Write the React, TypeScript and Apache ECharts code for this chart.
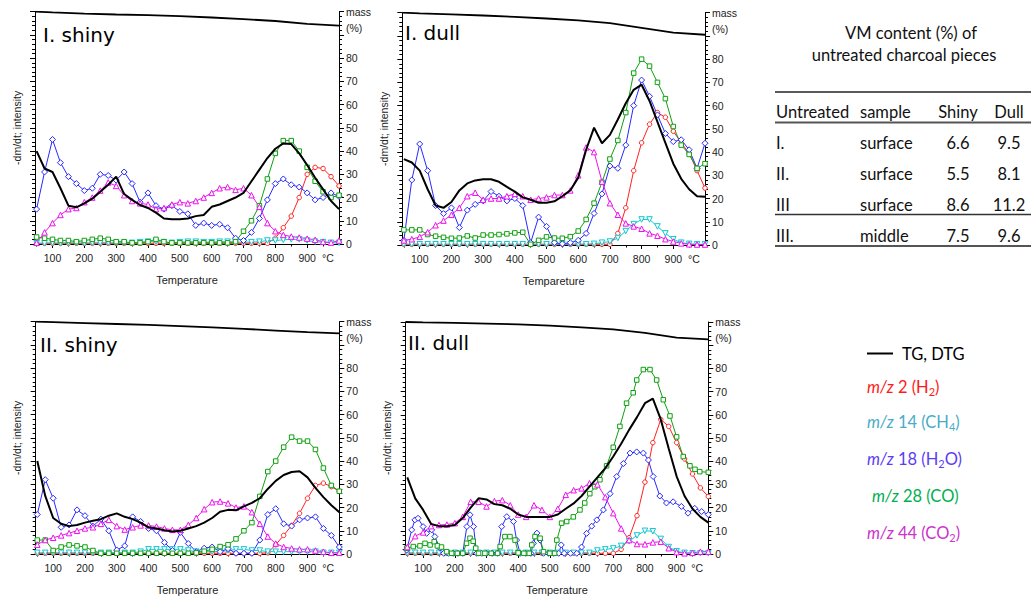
import React, { useEffect, useRef } from "react";
import * as echarts from "echarts";

// ---------- shared axes data ----------
const temps = [50, 75, 100, 125, 150, 175, 200, 225, 250, 275, 300, 325, 350, 375, 400, 425, 450, 475, 500, 525, 550, 575, 600, 625, 650, 675, 700, 725, 750, 775, 800, 825, 850, 875, 900, 925, 950, 975, 1000];
const tgTemps = [45, 100, 200, 300, 400, 500, 600, 700, 800, 900, 1000];
const xTickLabels = [100, 200, 300, 400, 500, 600, 700, 800, 900];
const xMinorTicks = [50, 150, 250, 350, 450, 550, 650, 750, 850, 950];
const unitLabelPos = 965;
const yTickLabels = [0, 10, 20, 30, 40, 50, 60, 70, 80];
const massLabelPos = [93, 100];

const panelTitles = ["I. shiny", "I. dull", "II. shiny", "II. dull"];
const xAxisNames = ["Temperature", "Tempareture", "Temperature", "Temperature"];
const yAxisName = "-dm/dt; intensity";

// ---------- I. shiny ----------
const tg1 = [100, 99.7, 99.2, 98.8, 98.5, 98.1, 97.5, 96.8, 96, 94.8, 94];
const dtg1 = [40, 32.5, 31, 24, 16.5, 15.8, 17.5, 19.5, 22.5, 25.5, 29, 21.5, 19, 16.8, 15.5, 13.5, 11, 10.7, 10.7, 11, 12, 12.5, 16, 17, 18.5, 20, 22, 27, 32, 37, 41, 43.3, 43, 39, 34, 28.5, 23.5, 18.5, 15];
const h2_1 = [0.3, 0.3, 0.3, 0.3, 0.3, 0.3, 0.3, 0.3, 0.3, 0.3, 0.3, 0.3, 0.3, 0.3, 0.3, 0.3, 0.3, 0.3, 0.3, 0.3, 0.3, 0.3, 0.3, 0.3, 0.3, 0.3, 0.3, 0.3, 0.3, 0.3, 2.5, 7, 12, 20, 30, 33, 32.5, 29, 25];
const ch4_1 = [0.3, 0.3, 0.5, 0.3, 0.5, 0.5, 0.3, 0.5, 0.5, 0.5, 0.5, 0.5, 0.5, 0.8, 1, 1, 0.8, 0.5, 0.8, 1, 1, 0.8, 0.8, 1, 1, 0.8, 0.8, 0.8, 1, 1.5, 1.5, 1.8, 2, 2, 1.5, 1, 0.8, 0.5, 0.5];
const h2o_1 = [15, 31, 45, 35, 29, 26, 23, 24, 30, 29.5, 27.5, 31, 26, 18, 22, 16.5, 15, 16.5, 14, 13, 8, 9, 8, 8.5, 7, 2.5, 1.5, 5, 11, 19, 26, 28, 25.5, 24.5, 22, 19, 20, 22, 20.5];
const co_1 = [3, 2.5, 2, 1.5, 1.5, 1, 1.5, 2, 2.5, 2, 1, 1, 0.5, 0.5, 1, 2, 1, 0.5, 0.5, 0.5, 0.5, 0.5, 0.5, 0.5, 0.5, 1, 5.5, 10, 16.5, 28, 39, 44.5, 44.5, 40, 33, 27, 22.5, 20, 21];
const co2_1 = [0.5, 5, 9, 12.5, 15, 15.5, 18, 20, 23, 26.5, 25, 21, 18.5, 17.5, 17, 15, 15.5, 17, 18, 17.5, 18.5, 20, 22, 24, 24.5, 23.3, 24, 21, 16, 9, 5.5, 3.9, 3.2, 2.8, 2.3, 1.8, 1, 0.6, 1.5];

// ---------- I. dull ----------
const tg2 = [100, 99.7, 99.3, 98.8, 98.2, 97.5, 96.7, 95.5, 93.5, 91.4, 90.5];
const dtg2 = [37, 35.5, 32, 24, 17, 16, 18.5, 23.5, 26.5, 27.8, 28.3, 28.3, 27.2, 25, 23, 20.5, 19.5, 18.2, 18.2, 18.8, 21, 23.5, 29, 41, 50.5, 43.8, 47.4, 54, 61, 66.8, 69, 62, 53, 44, 35, 28.5, 24, 21, 20.8];
const h2_2 = [0.3, 0.3, 0.3, 0.3, 0.3, 0.3, 0.3, 0.3, 0.3, 0.3, 0.3, 0.3, 0.3, 0.3, 0.3, 0.3, 0.3, 0.3, 0.3, 0.3, 0.3, 0.3, 0.3, 0.3, 0.3, 0.3, 0.3, 5, 16, 32, 44, 52, 57, 55, 49, 44, 39.5, 32, 24.5];
const ch4_2 = [0.3, 0.3, 0.3, 0.3, 0.3, 0.3, 0.3, 0.3, 0.3, 0.3, 0.3, 0.3, 0.3, 0.3, 0.3, 0.3, 0.3, 0.3, 0.3, 0.3, 0.3, 0.3, 0.3, 0.3, 0.5, 1, 1.5, 3, 6, 9, 11, 11, 8, 5, 2.5, 1, 0.5, 0.3, 0.3];
const h2o_2 = [2, 28, 43.5, 32, 17, 13.5, 16, 7.5, 15, 17.5, 19, 23, 21, 19, 20, 17, 1, 12, 8, 1, 0.5, 1, 2, 5, 13.6, 22, 34, 33, 43, 60, 71, 64, 56, 48, 44.5, 45.3, 41, 33, 43.8];
const co_2 = [6.5, 6.5, 6.5, 4.5, 3.8, 3.3, 2.9, 3, 3.9, 3, 4.3, 4.3, 4.5, 4.8, 5.2, 5.5, 0.3, 2, 3.5, 3, 2.9, 3.6, 6, 11, 18, 27, 37, 45, 57, 74, 80, 77, 70, 63, 51, 43, 39, 33, 35];
const co2_2 = [2, 2.5, 3.5, 5.5, 8.5, 10.5, 13, 16, 21, 22.5, 19.5, 20, 20, 21, 22, 21, 19.5, 20, 20.5, 21.5, 21.5, 23.5, 30, 42, 40, 27.3, 18, 13, 9.3, 8, 7, 5, 4, 2.5, 1.5, 0.7, 0.3, 0.2, 0.2];

// ---------- II. shiny ----------
const tg3 = [100, 99.8, 99.4, 99, 98.6, 98.1, 97.6, 96.9, 96.2, 95.5, 95];
const dtg3 = [40, 25, 15.5, 13, 12, 12.5, 13.5, 14.3, 15, 16.5, 17.5, 16, 15, 13.5, 11.5, 11, 10.2, 9.7, 10, 11, 12, 13.5, 15.5, 18.2, 19, 18.8, 20.5, 22, 24, 28, 31.5, 34, 35.3, 35.6, 33, 28.5, 24.5, 21, 18];
const h2_3 = [0.3, 0.3, 0.3, 0.3, 0.3, 0.3, 0.3, 0.3, 0.3, 0.3, 0.3, 0.3, 0.3, 0.3, 0.3, 0.3, 0.3, 0.3, 0.3, 0.3, 0.3, 0.3, 0.3, 0.3, 0.3, 0.3, 0.3, 0.3, 0.3, 0.5, 4, 8, 12.3, 17.5, 24, 29.5, 30.5, 29, 27];
const ch4_3 = [0.5, 0.5, 0.5, 0.5, 0.5, 0.5, 0.5, 0.5, 0.5, 0.5, 0.5, 0.5, 0.5, 1, 2, 2, 2, 2, 2, 1.5, 1, 1, 1, 1, 1.5, 2, 2, 1.5, 1.5, 1, 1, 1, 1, 1, 1, 1, 0.5, 0.5, 0.5];
const h2o_3 = [17, 32, 24, 11.5, 12.5, 19, 16.5, 12, 15, 10, 1.7, 3.5, 16, 14, 11, 10, 5, 1.5, 9.3, 4.5, 1, 2.5, 3, 1, 2.3, 0.3, 0.3, 0.3, 6, 17, 19.5, 13, 12, 14.7, 15.5, 16, 11, 8, 3];
const co_3 = [6, 6, 1.5, 3, 3.9, 3.5, 3, 1.5, 0.3, 0.3, 0.3, 0.3, 0.3, 0.3, 0.3, 0.3, 0.3, 0.3, 0.3, 0.3, 0.5, 1.2, 2, 3.2, 4, 6.5, 10, 13.5, 24.8, 35.5, 40, 46, 50.3, 48.6, 48.6, 45, 37, 29.5, 27];
const co2_3 = [4, 6, 7, 8, 9, 10, 11, 11.5, 13, 14.7, 12, 10.5, 11.5, 12.3, 12.3, 11.8, 11, 10.4, 10.4, 12.5, 15.5, 19.3, 22.3, 22.6, 21.8, 20, 20.5, 18, 13, 7.5, 4.5, 3, 2.4, 2, 2, 1.5, 1, 0.5, 0.5];

// ---------- II. dull ----------
const tg4 = [100, 99.8, 99.6, 99.3, 99, 98.4, 97.7, 96.8, 95.3, 93.3, 92.5];
const dtg4 = [33, 24, 19, 13, 12, 12, 12.5, 15.5, 20, 24, 23.5, 21.5, 21, 19.5, 17, 16, 16, 16, 16, 17, 19.5, 21.8, 25, 29, 33, 37, 42, 47.5, 53.5, 59, 65, 67, 58, 45.5, 33.5, 25, 19.5, 16, 13.5];
const h2_4 = [0.3, 0.3, 0.3, 0.3, 0.3, 0.3, 0.3, 0.3, 0.3, 0.3, 0.3, 0.3, 0.3, 0.3, 0.3, 0.3, 0.3, 0.3, 0.3, 0.3, 0.3, 0.3, 0.3, 0.3, 0.3, 0.3, 0.3, 2, 7, 16.5, 31, 48, 58, 55, 48, 41, 34.5, 28.5, 24.8];
const ch4_4 = [0.5, 0.5, 0.5, 0.5, 0.5, 0.5, 0.5, 0.5, 0.5, 0.5, 0.5, 0.5, 0.5, 0.5, 0.5, 0.5, 0.5, 0.5, 0.5, 0.5, 0.5, 0.5, 0.5, 0.5, 1.5, 2, 2.4, 3.5, 5.5, 8, 10, 9.8, 6.5, 3, 1.2, 0.5, 0.3, 0.3, 0.3];
const h2o_4 = [[48, 1.7], [64, 10.4], [74, 14.7], [84, 15.4], [100, 11.8], [111, 8.9], [127, 10.4], [137, 7.5], [153, 2.5], [165, 0.3], [180, 0.3], [195, 0.3], [210, 0.3], [225, 0.3], [238, 11.8], [248, 16.9], [259, 11.8], [269, 0.3], [285, 0.3], [300, 0.3], [318, 0.3], [335, 0.3], [348, 11.8], [364, 16.1], [385, 14], [395, 6], [406, 0.3], [424, 0.3], [440, 0.3], [448, 4.6], [459, 9], [469, 6], [480, 0.3], [495, 0.3], [512, 0.3], [528, 0.3], [536, 3.9], [545, 0.3], [565, 0.3], [585, 0.3], [600, 3], [616, 8.9], [632, 12], [648, 14.7], [669, 19], [690, 26], [711, 33.4], [732, 39], [753, 43.5], [774, 44], [795, 43.5], [811, 40.5], [826, 33.4], [847, 25], [868, 22], [889, 22.5], [915, 20.5], [936, 17.6], [957, 19.7], [979, 18.3], [1000, 17]];
const co_4 = [[48, 2.5], [69, 3.2], [90, 3.5], [106, 4.6], [122, 3.9], [135, 5.3], [145, 3.5], [158, 3], [174, 1], [190, 0.3], [208, 0.3], [225, 0.3], [237, 4.6], [248, 6.8], [258, 5.5], [266, 2.5], [275, 0.3], [295, 0.3], [315, 0.3], [335, 0.3], [343, 3.2], [358, 7.5], [374, 7.5], [390, 6], [400, 0.5], [418, 0.3], [435, 0.3], [443, 3.9], [453, 7.5], [469, 6.8], [480, 1], [500, 0.3], [515, 0.3], [522, 6], [537, 13.3], [553, 14], [574, 16], [595, 19], [610, 22], [626, 26], [642, 29], [658, 32], [679, 38], [700, 46], [721, 55], [742, 65], [763, 69.5], [774, 75], [795, 79.5], [816, 79.5], [837, 75], [858, 66.5], [879, 59.5], [900, 50.5], [921, 42], [942, 38], [958, 36.5], [973, 35.5], [1000, 35.2]];
const co2_4 = [3, 7.7, 9.3, 12, 12.5, 12.7, 13.3, 16, 22.5, 22.5, 20.5, 22.8, 23.2, 21, 17, 16, 21, 19, 16, 19.5, 25.5, 27.5, 28.3, 30.5, 30, 24.5, 17.6, 11, 6, 4.3, 4.2, 5, 5.3, 2.5, 0.8, 0.3, 0.5, 1, 1];

// ---------- table + legend text ----------
const vmTitle = ["VM content (%) of", "untreated charcoal pieces"];
const tableHead = ["Untreated", "sample", "Shiny", "Dull"];
const sampleIds = ["I.", "II.", "III", "III."];
const sampleParts = ["surface", "surface", "surface", "middle"];
const vmShiny = ["6.6", "5.5", "8.6", "7.5"];
const vmDull = ["9.5", "8.1", "11.2", "9.6"];

const legendBlack = "TG, DTG";
const gasLegend = [
  { mz: "2", pre: "H", sub: "2", post: "", color: "#ff1a1a" },
  { mz: "14", pre: "CH", sub: "4", post: "", color: "#4bacc6" },
  { mz: "18", pre: "H", sub: "2", post: "O", color: "#5b3df5" },
  { mz: "28", pre: "CO", sub: "", post: "", color: "#00b050" },
  { mz: "44", pre: "CO", sub: "2", post: "", color: "#cc33cc" },
];

// ---------- layout (styles only) ----------
const rects = [
  { left: 35, top: 11.7, width: 304, height: 232.3 },
  { left: 402.3, top: 12.7, width: 302.7, height: 232.3 },
  { left: 35.7, top: 321.7, width: 303.6, height: 232.3 },
  { left: 405.7, top: 322, width: 302.6, height: 232 },
];
const titlePos = [[43, 35], [405, 33], [40, 345], [408, 343]];

const gasStyles = [
  { key: "h2", color: "#ff2020", symbol: "circle", size: 4.5, rotate: 0 },
  { key: "ch4", color: "#10c8d0", symbol: "triangle", size: 5.5, rotate: 180 },
  { key: "h2o", color: "#2828ff", symbol: "diamond", size: 6, rotate: 0 },
  { key: "co", color: "#10a010", symbol: "rect", size: 4.5, rotate: 0 },
  { key: "co2", color: "#ee10ee", symbol: "triangle", size: 5.5, rotate: 0 },
];

const panels: any[] = [
  { tg: tg1, dtg: dtg1, h2: h2_1, ch4: ch4_1, h2o: h2o_1, co: co_1, co2: co2_1 },
  { tg: tg2, dtg: dtg2, h2: h2_2, ch4: ch4_2, h2o: h2o_2, co: co_2, co2: co2_2 },
  { tg: tg3, dtg: dtg3, h2: h2_3, ch4: ch4_3, h2o: h2o_3, co: co_3, co2: co2_3 },
  { tg: tg4, dtg: dtg4, h2: h2_4, ch4: ch4_4, h2o: h2o_4, co: co_4, co2: co2_4 },
];

const zip = (xs: number[], ys: number[]) => ys.map((y, i) => [xs[i], y]);
const asPairs = (d: any[]) => (Array.isArray(d[0]) ? d : zip(temps, d));

const TICK = "Liberation Sans";
const CAL = "Lato";

function buildOption() {
  const xAxis: any[] = [];
  const yAxis: any[] = [];
  const series: any[] = [];
  const graphic: any[] = [];

  rects.forEach((_, i) => {
    xAxis.push({
      gridIndex: i, type: "value", min: 45, max: 1000, position: "bottom",
      axisLine: { show: true, onZero: false, lineStyle: { color: "#000", width: 1 } },
      axisTick: { show: true, customValues: xTickLabels, length: 4, lineStyle: { color: "#000" } },
      axisLabel: {
        customValues: [...xTickLabels, unitLabelPos],
        formatter: (v: number) => (v === unitLabelPos ? "°C" : String(v)),
        fontSize: 10.5, color: "#222", margin: 8, fontFamily: TICK,
      },
      splitLine: { show: false },
      name: xAxisNames[i], nameLocation: "middle", nameGap: 30,
      nameTextStyle: { fontSize: 11, color: "#222", fontFamily: TICK },
    });
  });
  rects.forEach((_, i) => {
    xAxis.push({
      gridIndex: i, type: "value", min: 45, max: 1000, position: "bottom",
      axisLine: { show: false, onZero: false },
      axisTick: { show: true, customValues: xMinorTicks, length: 2.5, lineStyle: { color: "#000" } },
      axisLabel: { show: false },
      splitLine: { show: false },
    });
  });
  rects.forEach((_, i) => {
    yAxis.push({
      gridIndex: i, type: "value", min: 0, max: 100, interval: 10, position: "left",
      axisLine: { show: true, onZero: false, lineStyle: { color: "#000" } },
      axisTick: { show: true, length: 5, lineStyle: { color: "#000" } },
      minorTick: { show: true, splitNumber: 5, length: 3, lineStyle: { color: "#000" } },
      axisLabel: { show: false },
      splitLine: { show: false },
      name: yAxisName, nameLocation: "middle", nameGap: 13,
      nameTextStyle: { fontSize: 10.5, color: "#222", fontFamily: TICK },
    });
  });
  rects.forEach((_, i) => {
    yAxis.push({
      gridIndex: i, type: "value", min: 0, max: 100, interval: 10, position: "right",
      axisLine: { show: true, onZero: false, lineStyle: { color: "#000" } },
      axisTick: { show: true, length: 5, lineStyle: { color: "#000" } },
      minorTick: { show: true, splitNumber: 5, length: 3, lineStyle: { color: "#000" } },
      axisLabel: {
        customValues: [...yTickLabels, ...massLabelPos],
        formatter: (v: number) => (v === massLabelPos[1] ? "mass" : v === massLabelPos[0] ? "(%)" : String(v)),
        fontSize: 10.5, color: "#222", margin: 7, fontFamily: TICK,
      },
      splitLine: { show: false },
    });
  });

  panels.forEach((p, i) => {
    const common = { xAxisIndex: i, yAxisIndex: 4 + i, silent: true, emphasis: { disabled: true } };
    series.push({ ...common, type: "line", data: zip(tgTemps, p.tg), symbol: "none", lineStyle: { color: "#000", width: 1.8 }, itemStyle: { color: "#000" }, z: 3 });
    series.push({ ...common, type: "line", data: asPairs(p.dtg), symbol: "none", lineStyle: { color: "#000", width: 2 }, itemStyle: { color: "#000" }, z: 3 });
    gasStyles.forEach((g) => {
      series.push({
        ...common, type: "line", data: asPairs(p[g.key]),
        symbol: g.symbol, symbolSize: g.size, symbolRotate: g.rotate, showAllSymbol: true,
        lineStyle: { color: g.color, width: 1 },
        itemStyle: { color: "#fff", borderColor: g.color, borderWidth: 1 },
        z: 2,
      });
    });
    graphic.push({
      type: "text", x: titlePos[i][0], y: titlePos[i][1], silent: true,
      style: { text: panelTitles[i], fontSize: 20, fontFamily: "DejaVu Sans", fill: "#000", align: "left", verticalAlign: "middle" },
    });
  });

  // VM table
  const tfont = { fontSize: 16.5, fontFamily: CAL, fill: "#111" };
  graphic.push({ type: "text", x: 911, y: 33, silent: true, style: { ...tfont, text: vmTitle[0], align: "center", verticalAlign: "middle" } });
  graphic.push({ type: "text", x: 904, y: 55, silent: true, style: { ...tfont, text: vmTitle[1], align: "center", verticalAlign: "middle" } });
  const hline = (y: number, w: number, c: string) => ({ type: "line", silent: true, shape: { x1: 775, y1: y, x2: 1031, y2: y }, style: { stroke: c, lineWidth: w } });
  graphic.push(hline(92, 1.5, "#222"));
  graphic.push(hline(122.5, 2, "#555"));
  graphic.push(hline(214.5, 1.5, "#333"));
  graphic.push(hline(246, 2, "#555"));
  const colX = [776, 860, 958, 1009];
  graphic.push({ type: "text", x: colX[0], y: 112, silent: true, style: { ...tfont, text: tableHead[0], align: "left", verticalAlign: "middle" } });
  graphic.push({ type: "text", x: colX[1], y: 112, silent: true, style: { ...tfont, text: tableHead[1], align: "left", verticalAlign: "middle" } });
  graphic.push({ type: "text", x: colX[2], y: 112, silent: true, style: { ...tfont, text: tableHead[2], align: "center", verticalAlign: "middle" } });
  graphic.push({ type: "text", x: colX[3], y: 112, silent: true, style: { ...tfont, text: tableHead[3], align: "center", verticalAlign: "middle" } });
  const rowY = [142.5, 173.5, 204.5, 235.5];
  sampleIds.forEach((id, r) => {
    graphic.push({ type: "text", x: colX[0], y: rowY[r], silent: true, style: { ...tfont, text: id, align: "left", verticalAlign: "middle" } });
    graphic.push({ type: "text", x: colX[1], y: rowY[r], silent: true, style: { ...tfont, text: sampleParts[r], align: "left", verticalAlign: "middle" } });
    graphic.push({ type: "text", x: colX[2], y: rowY[r], silent: true, style: { ...tfont, text: vmShiny[r], align: "center", verticalAlign: "middle" } });
    graphic.push({ type: "text", x: colX[3], y: rowY[r], silent: true, style: { ...tfont, text: vmDull[r], align: "center", verticalAlign: "middle" } });
  });

  // Legend
  graphic.push({ type: "line", silent: true, shape: { x1: 867, y1: 353.5, x2: 893, y2: 353.5 }, style: { stroke: "#000", lineWidth: 2 } });
  graphic.push({ type: "text", x: 902, y: 353.5, silent: true, style: { fontSize: 16.5, fontFamily: CAL, fill: "#000", text: legendBlack, align: "left", verticalAlign: "middle" } });
  const legY = [387, 422, 459, 495.5, 533];
  const legX = [867, 867, 867, 872, 867];
  gasLegend.forEach((g, k) => {
    const base = { fontSize: 16.5, fontFamily: CAL, fill: g.color };
    const subPart = g.sub ? `{s|${g.sub}}` : "";
    graphic.push({
      type: "text", x: legX[k], y: legY[k], silent: true,
      style: {
        ...base, align: "left", verticalAlign: "middle",
        text: `{i|m/z}{n| ${g.mz} (${g.pre}}${subPart}{n|${g.post})}`,
        rich: {
          i: { ...base, fontStyle: "italic" },
          n: { ...base },
          s: { fontSize: 11, fontFamily: CAL, fill: g.color, padding: [9, 0, 0, 0] },
        },
      },
    });
  });

  return {
    animation: false,
    backgroundColor: "#fff",
    textStyle: { fontFamily: TICK },
    grid: rects.map((r) => ({ ...r, containLabel: false })),
    xAxis, yAxis, series, graphic,
  };
}

export default function App() {
  const ref = useRef<HTMLDivElement>(null);
  useEffect(() => {
    const chart = echarts.init(ref.current!, null, { renderer: "svg" });
    chart.setOption(buildOption() as any);
    return () => chart.dispose();
  }, []);
  return <div ref={ref} style={{ position: "absolute", left: 0, top: 0, width: 1031, height: 602, background: "#fff" }} />;
}
